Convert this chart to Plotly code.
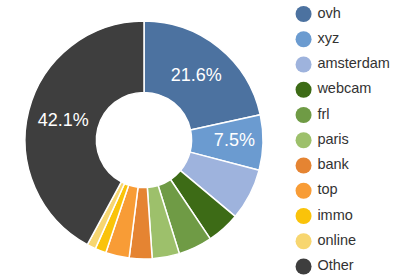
import plotly.graph_objects as go

labels = ["ovh", "xyz", "amsterdam", "webcam", "frl", "paris", "bank", "top", "immo", "online", "Other"]
values = [21.6, 7.5, 7.0, 4.5, 4.6, 3.7, 3.1, 3.2, 1.5, 1.2, 42.1]
colors = ["#4c72a0", "#6b9bd0", "#9eb3dd", "#3d6b16", "#6f9b45", "#9dc06b",
          "#e58432", "#f89c36", "#fac30a", "#f7d670", "#3e3e3e"]
shown_labels = ["ovh", "xyz", "Other"]

W, H = 401, 279
templates = ["%{percent:.1%}" if l in shown_labels else "" for l in labels]

fig = go.Figure()
fig.add_trace(go.Pie(
    labels=labels, values=values, sort=False, direction="clockwise", rotation=0,
    hole=0.4,
    marker=dict(colors=colors, line=dict(color="white", width=1.5)),
    texttemplate=templates, textposition="inside", insidetextorientation="horizontal",
    textfont=dict(family="Liberation Sans", size=18, color="white"),
    showlegend=False, hoverinfo="label+percent",
    domain=dict(x=[25 / W, 263 / W], y=[1 - 260 / H, 1 - 20 / H]),
))

idx = list(range(len(labels)))
fig.add_trace(go.Scatter(
    x=[0] * len(labels), y=idx, mode="markers",
    marker=dict(size=16, color=colors, symbol="circle"),
    showlegend=False, hoverinfo="skip", xaxis="x", yaxis="y", cliponaxis=False,
))
fig.add_trace(go.Scatter(
    x=[0.115] * len(labels), y=idx, mode="text", text=labels,
    textposition="middle right",
    textfont=dict(family="Liberation Sans", size=14.5, color="#333333"),
    showlegend=False, hoverinfo="skip", xaxis="x", yaxis="y", cliponaxis=False,
))

fig.update_layout(
    width=W, height=H, margin=dict(l=0, r=0, t=0, b=0),
    paper_bgcolor="white", plot_bgcolor="white",
    xaxis=dict(domain=[0.7, 1], range=[-0.19, 0.81], visible=False, fixedrange=True),
    yaxis=dict(domain=[0, 1], range=[10.495, -0.554], visible=False, fixedrange=True),
)

fig.write_html("out.html", config={"displayModeBar": False},
               post_script="document.body.style.margin='0';")
